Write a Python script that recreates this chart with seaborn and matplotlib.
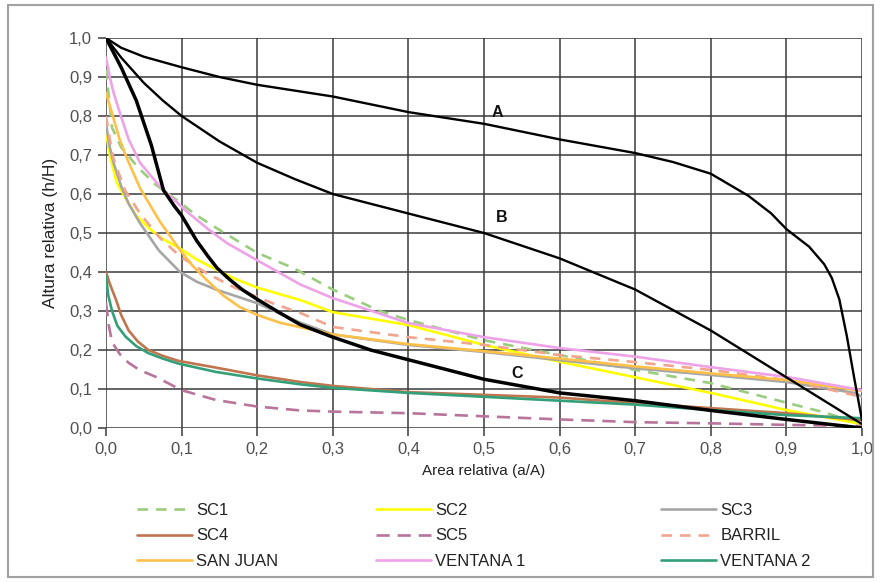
import matplotlib
matplotlib.use('Agg')
import matplotlib.pyplot as plt
import seaborn as sns
from matplotlib.patches import Rectangle
from matplotlib.ticker import FuncFormatter

# reference curves A, B, C
a_x = [0, 0.02, 0.05, 0.1, 0.15, 0.2, 0.3, 0.4, 0.5, 0.6, 0.7, 0.75, 0.8, 0.85, 0.88, 0.9, 0.93, 0.95, 0.96, 0.97, 0.98, 0.99, 1.0]
a_y = [1.0, 0.975, 0.952, 0.925, 0.9, 0.88, 0.85, 0.81, 0.78, 0.74, 0.705, 0.682, 0.652, 0.595, 0.55, 0.51, 0.465, 0.42, 0.385, 0.33, 0.235, 0.125, 0.02]

b_x = [0, 0.02, 0.05, 0.075, 0.1, 0.15, 0.2, 0.25, 0.3, 0.4, 0.5, 0.6, 0.7, 0.8, 0.9, 0.95, 1.0]
b_y = [1.0, 0.95, 0.885, 0.84, 0.80, 0.735, 0.68, 0.638, 0.60, 0.55, 0.50, 0.435, 0.355, 0.25, 0.13, 0.07, 0.01]

c_x = [0, 0.02, 0.04, 0.06, 0.076, 0.09, 0.1, 0.12, 0.135, 0.147, 0.164, 0.18, 0.2, 0.23, 0.257, 0.3, 0.35, 0.4, 0.5, 0.6, 0.7, 0.8, 0.9, 1.0]
c_y = [1.0, 0.925, 0.84, 0.725, 0.61, 0.57, 0.545, 0.48, 0.44, 0.41, 0.38, 0.355, 0.33, 0.295, 0.265, 0.233, 0.2, 0.175, 0.125, 0.09, 0.07, 0.045, 0.022, 0.0]

# basins
sc1_x = [0, 0.008, 0.02, 0.043, 0.065, 0.093, 0.12, 0.15, 0.2, 0.248, 0.3, 0.362, 0.4, 0.5, 0.6, 0.7, 0.8, 0.9, 0.95, 1.0]
sc1_y = [0.92, 0.77, 0.72, 0.667, 0.625, 0.585, 0.545, 0.508, 0.449, 0.41, 0.355, 0.30, 0.277, 0.225, 0.187, 0.149, 0.115, 0.065, 0.04, 0.01]

sc2_x = [0, 0.005, 0.014, 0.027, 0.04, 0.058, 0.075, 0.098, 0.12, 0.142, 0.17, 0.2, 0.257, 0.3, 0.4, 0.5, 0.6, 0.7, 0.8, 0.9, 1.0]
sc2_y = [0.76, 0.70, 0.63, 0.585, 0.545, 0.51, 0.485, 0.46, 0.432, 0.41, 0.383, 0.36, 0.328, 0.297, 0.264, 0.213, 0.17, 0.13, 0.09, 0.046, 0.01]

sc3_x = [0, 0.005, 0.01, 0.02, 0.03, 0.045, 0.07, 0.098, 0.12, 0.147, 0.2, 0.257, 0.3, 0.4, 0.5, 0.6, 0.7, 0.8, 0.9, 0.99, 1.0]
sc3_y = [0.78, 0.72, 0.68, 0.62, 0.575, 0.525, 0.455, 0.40, 0.375, 0.354, 0.32, 0.27, 0.24, 0.213, 0.195, 0.174, 0.153, 0.136, 0.118, 0.09, 0.08]

sc4_x = [0, 0.005, 0.013, 0.02, 0.03, 0.042, 0.056, 0.075, 0.096, 0.145, 0.2, 0.257, 0.3, 0.4, 0.5, 0.6, 0.7, 0.8, 0.9, 1.0]
sc4_y = [0.40, 0.37, 0.33, 0.29, 0.25, 0.222, 0.20, 0.185, 0.172, 0.155, 0.135, 0.118, 0.108, 0.092, 0.085, 0.078, 0.064, 0.051, 0.038, 0.02]

sc5_x = [0, 0.004, 0.008, 0.018, 0.03, 0.045, 0.066, 0.1, 0.145, 0.2, 0.257, 0.3, 0.4, 0.5, 0.6, 0.7, 0.8, 0.9, 1.0]
sc5_y = [0.32, 0.26, 0.22, 0.19, 0.167, 0.148, 0.131, 0.097, 0.072, 0.055, 0.045, 0.042, 0.038, 0.03, 0.022, 0.015, 0.012, 0.008, 0.005]

barril_x = [0, 0.005, 0.01, 0.025, 0.045, 0.07, 0.098, 0.133, 0.168, 0.22, 0.257, 0.3, 0.4, 0.5, 0.6, 0.7, 0.8, 0.9, 1.0]
barril_y = [0.80, 0.74, 0.69, 0.61, 0.55, 0.49, 0.44, 0.397, 0.362, 0.32, 0.295, 0.259, 0.233, 0.213, 0.187, 0.169, 0.149, 0.123, 0.08]

sanjuan_x = [0, 0.009, 0.018, 0.028, 0.045, 0.071, 0.098, 0.115, 0.133, 0.155, 0.177, 0.2, 0.23, 0.3, 0.4, 0.5, 0.6, 0.7, 0.8, 0.9, 1.0]
sanjuan_y = [0.86, 0.80, 0.74, 0.69, 0.615, 0.53, 0.456, 0.415, 0.38, 0.34, 0.31, 0.29, 0.27, 0.24, 0.215, 0.197, 0.178, 0.158, 0.14, 0.123, 0.095]

v1_x = [0, 0.005, 0.01, 0.018, 0.03, 0.045, 0.071, 0.09, 0.11, 0.135, 0.16, 0.2, 0.257, 0.3, 0.4, 0.5, 0.6, 0.7, 0.8, 0.9, 1.0]
v1_y = [0.95, 0.9, 0.86, 0.81, 0.74, 0.68, 0.62, 0.585, 0.55, 0.51, 0.474, 0.43, 0.368, 0.333, 0.269, 0.233, 0.205, 0.183, 0.156, 0.131, 0.097]

v2_x = [0, 0.003, 0.008, 0.015, 0.026, 0.04, 0.056, 0.075, 0.096, 0.145, 0.2, 0.257, 0.3, 0.4, 0.5, 0.6, 0.7, 0.8, 0.9, 1.0]
v2_y = [0.39, 0.34, 0.30, 0.262, 0.234, 0.21, 0.192, 0.178, 0.165, 0.144, 0.127, 0.112, 0.103, 0.09, 0.08, 0.07, 0.06, 0.046, 0.033, 0.025]

names = ['SC1', 'SC2', 'SC3', 'SC4', 'SC5', 'BARRIL', 'SAN JUAN', 'VENTANA 1', 'VENTANA 2']
xs = [sc1_x, sc2_x, sc3_x, sc4_x, sc5_x, barril_x, sanjuan_x, v1_x, v2_x]
ys = [sc1_y, sc2_y, sc3_y, sc4_y, sc5_y, barril_y, sanjuan_y, v1_y, v2_y]
colors = ['#9acd7e', '#ffff00', '#a6a6a6', '#c0754f', '#b8749a', '#f2a58e', '#ffc04a', '#eea2e8', '#33a07a']
styles = [(0, (4, 3)), '-', '-', '-', (0, (5, 3)), (0, (4, 3)), '-', '-', '-']

tick_vals = [0, 0.1, 0.2, 0.3, 0.4, 0.5, 0.6, 0.7, 0.8, 0.9, 1.0]

sns.set_style('white')
plt.rcParams['font.family'] = ['Liberation Sans', 'DejaVu Sans']

fig = plt.figure(figsize=(8.81, 5.82), dpi=100)
ax = fig.add_axes([106 / 881, 1 - 428 / 582, 756 / 881, 390 / 582])

for x, y, c, s, n in zip(xs, ys, colors, styles, names):
    sns.lineplot(x=x, y=y, ax=ax, color=c, linestyle=s, lw=1.9, label=n,
                 estimator=None, legend=False)

for x, y, w in [(a_x, a_y, 1.7), (b_x, b_y, 1.7), (c_x, c_y, 2.5)]:
    sns.lineplot(x=x, y=y, ax=ax, color='black', lw=w, estimator=None, legend=False)

ax.text(0.517, 0.81, 'A', fontsize=11.5, fontweight='bold', ha='center', va='center', color='#111111')
ax.text(0.524, 0.54, 'B', fontsize=11.5, fontweight='bold', ha='center', va='center', color='#111111')
ax.text(0.544, 0.14, 'C', fontsize=11.5, fontweight='bold', ha='center', va='center', color='#111111')

ax.set_xlim(0, 1)
ax.set_ylim(0, 1)
ax.set_xticks(tick_vals)
ax.set_yticks(tick_vals)
fmt = FuncFormatter(lambda v, p: f'{v:.1f}'.replace('.', ','))
ax.xaxis.set_major_formatter(fmt)
ax.yaxis.set_major_formatter(fmt)
ax.grid(True, color='#3a3a3a', lw=1.1)
ax.set_axisbelow(True)
for sp in ax.spines.values():
    sp.set_visible(False)
ax.tick_params(axis='both', which='both', direction='out', length=6, width=1.1,
               color='#3a3a3a', labelsize=12, labelcolor='#505050', pad=4,
               left=True, bottom=True)
ax.set_xlabel('Area relativa (a/A)', fontsize=11, color='#222222', labelpad=5)
ax.set_ylabel('Altura relativa (h/H)', fontsize=12.5, color='#222222', labelpad=8)

# legend, three columns
lines = {l.get_label(): l for l in ax.get_lines()}
col_x = [137 / 881, 376 / 881, 661 / 881]
cols = [['SC1', 'SC4', 'SAN JUAN'], ['SC2', 'SC5', 'VENTANA 1'], ['SC3', 'BARRIL', 'VENTANA 2']]
for cx, labs in zip(col_x, cols):
    leg = fig.legend([lines[k] for k in labs], labs, loc='upper left',
                     bbox_to_anchor=(cx, 1 - 503 / 582), frameon=False,
                     fontsize=12, handlelength=3.3, handletextpad=0.25,
                     labelspacing=0.62, borderpad=0, borderaxespad=0)
    for t in leg.get_texts():
        t.set_color('#222222')

fig.patches.append(Rectangle((8 / 881, 5 / 582), 865 / 881, 572 / 582,
                             transform=fig.transFigure, fill=False,
                             edgecolor='#a0a0a0', lw=1.5))

fig.savefig('out.png', dpi=100)
